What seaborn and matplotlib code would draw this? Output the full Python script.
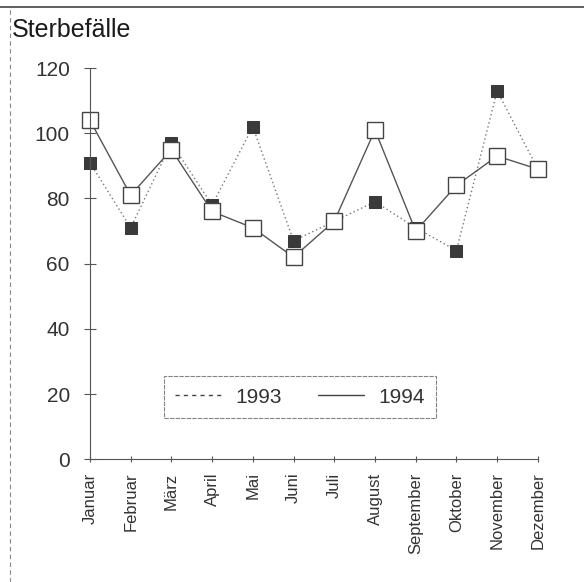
import matplotlib
matplotlib.use("Agg")
import matplotlib.pyplot as plt
from matplotlib.lines import Line2D
import seaborn as sns
import pandas as pd

months = ["Januar", "Februar", "März", "April", "Mai", "Juni", "Juli",
          "August", "September", "Oktober", "November", "Dezember"]
deaths_1993 = [91, 71, 97, 78, 102, 67, 73, 79, 71, 64, 113, 89]
deaths_1994 = [104, 81, 95, 76, 71, 62, 73, 101, 70, 84, 93, 89]
y_ticks = [0, 20, 40, 60, 80, 100, 120]

df = pd.DataFrame({"pos": range(len(months)), "monat": months,
                   "1993": deaths_1993, "1994": deaths_1994})

sns.set_style("white")
plt.rcParams["font.family"] = ["Liberation Sans", "DejaVu Sans"]

fig = plt.figure(figsize=(5.84, 5.82), dpi=100)
ax = fig.add_axes([0.154, 0.211, 0.767, 0.672])

sns.lineplot(data=df, x="pos", y="1993", ax=ax, color="#777777", lw=1.0,
             linestyle=(0, (1, 2)), marker="s", markersize=9,
             markerfacecolor="#3a3a3a", markeredgecolor="#3a3a3a", clip_on=False)
sns.lineplot(data=df, x="pos", y="1994", ax=ax, color="#555555", lw=1.0,
             marker="s", markersize=11, markerfacecolor="white",
             markeredgecolor="#444444", markeredgewidth=1.0, clip_on=False)

ax.set_xlim(0, 11)
ax.set_ylim(0, 120)
ax.set_yticks(y_ticks)
ax.set_xticks(range(len(months)))
ax.set_xticklabels(months, rotation=90, fontsize=12, color="#333333")
ax.tick_params(axis="y", labelsize=15, labelcolor="#333333", direction="inout",
               length=9, width=0.8, color="#555555", pad=10, left=True)
ax.tick_params(axis="x", direction="inout", length=5, width=0.8,
               color="#555555", pad=7, bottom=True)
ax.set_xlabel("")
ax.set_ylabel("")
sns.despine(ax=ax)
for s in ["left", "bottom"]:
    ax.spines[s].set_color("#555555")
    ax.spines[s].set_linewidth(0.8)
    ax.spines[s].set_linestyle((0, (4, 1)))

handles = [Line2D([], [], color="#444444", lw=1.0, linestyle=(0, (3, 3))),
           Line2D([], [], color="#444444", lw=1.0)]
leg = ax.legend(handles, ["1993", "1994"], ncol=2, fontsize=15,
                loc="center", bbox_to_anchor=(0.469, 0.159),
                frameon=True, fancybox=False, handlelength=2.2,
                handletextpad=0.7, columnspacing=1.7, borderpad=0.55,
                labelcolor="#333333")
leg.get_frame().set_edgecolor("#666666")
leg.get_frame().set_linewidth(0.8)
leg.get_frame().set_linestyle((0, (4, 1)))

fig.text(0.021, 0.948, "Sterbefälle", fontsize=18, color="#1a1a1a",
         ha="left", va="center")

# Rahmen oben und links
fig.add_artist(Line2D([0.0, 1.0], [0.988, 0.988], transform=fig.transFigure,
                      color="#444444", lw=1.2))
fig.add_artist(Line2D([0.017, 0.017], [0.0, 0.988], transform=fig.transFigure,
                      color="#888888", lw=0.8, linestyle=(0, (4, 3))))

fig.savefig("out.png", dpi=100)
